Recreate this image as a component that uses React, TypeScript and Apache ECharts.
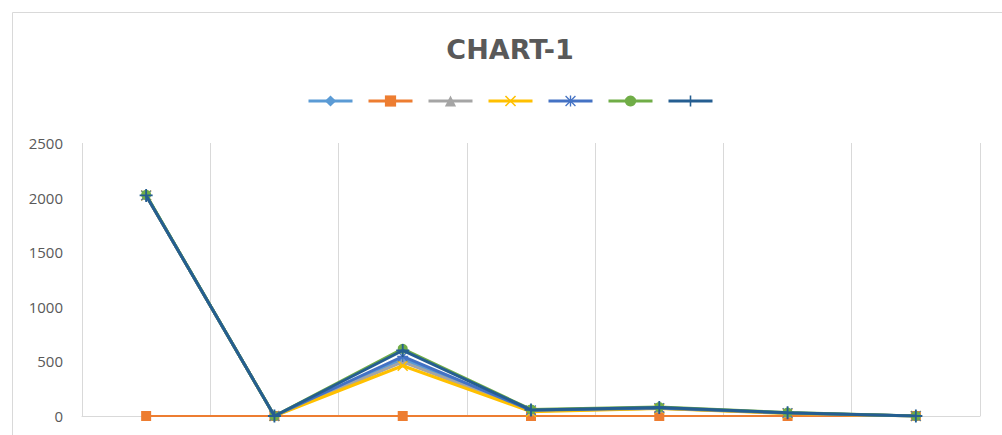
import React, { useEffect, useRef } from "react";
import * as echarts from "echarts";

const categories = ["1", "2", "3", "4", "5", "6", "7"];
const yTicks = { min: 0, max: 2500, interval: 500 };

const s1 = [2020, 0, 520, 50, 72, 28, 0];
const s2 = [0, 0, 0, 0, 0, 0, 0];
const s3 = [2020, 0, 495, 45, 70, 26, 0];
const s4 = [2020, 0, 460, 40, 68, 24, 0];
const s5 = [2020, 0, 545, 52, 74, 28, 0];
const s6 = [2025, 0, 615, 60, 82, 32, 0];
const s7 = [2020, 0, 600, 56, 78, 30, 0];

const seriesNames = ["S1", "S2", "S3", "S4", "S5", "S6", "S7"];
const seriesData = [s1, s2, s3, s4, s5, s6, s7];
const colors = ["#5B9BD5", "#ED7D31", "#A5A5A5", "#FFC000", "#4472C4", "#70AD47", "#255E91"];

const X_PATH = "path://M0,1L1,0L5,4L9,0L10,1L6,5L10,9L9,10L5,6L1,10L0,9L4,5Z";
const PLUS_PATH = "path://M4.3,0H5.7V4.3H10V5.7H5.7V10H4.3V5.7H0V4.3H4.3Z";
const AST_PATH =
  "path://M4.4,0H5.6V4.4H10V5.6H5.6V10H4.4V5.6H0V4.4H4.4Z M1,0.2L5,4.2L9,0.2L9.8,1L5.8,5L9.8,9L9,9.8L5,5.8L1,9.8L0.2,9L4.2,5L0.2,1Z";

const symbols = ["diamond", "rect", "triangle", X_PATH, AST_PATH, "circle", PLUS_PATH];
const symbolSizes = [9, 10, 9, 11, 11, 10, 13];

export default function App() {
  const ref = useRef<HTMLDivElement>(null);
  useEffect(() => {
    if (!ref.current) return;
    const chart = echarts.init(ref.current, undefined, { renderer: "svg" });
    chart.setOption({
      animation: false,
      backgroundColor: "#ffffff",
      title: {
        text: "CHART-1",
        left: 505,
        textAlign: "center",
        top: 31,
        textStyle: {
          fontFamily: "DejaVu Sans",
          fontWeight: "bold",
          fontSize: 27,
          color: "#595959",
        },
      },
      legend: {
        left: 302,
        top: 89,
        itemWidth: 44,
        itemHeight: 14,
        itemGap: 13,
        formatter: () => "",
        lineStyle: { width: 3 },
        data: seriesNames,
      },
      graphic: [
        {
          type: "rect",
          shape: { x: 12.5, y: 12.5, width: 1100, height: 600 },
          style: { fill: "none", stroke: "#d9d9d9", lineWidth: 1 },
          silent: true,
        },
      ],
      grid: { left: 82, right: 22, top: 143, bottom: 19 },
      xAxis: {
        type: "category",
        data: categories,
        boundaryGap: true,
        axisLine: { show: true, lineStyle: { color: "#d9d9d9", width: 1 } },
        axisTick: { show: false },
        axisLabel: { show: false },
        splitLine: { show: true, lineStyle: { color: "#d9d9d9", width: 1 } },
      },
      yAxis: {
        type: "value",
        min: yTicks.min,
        max: yTicks.max,
        interval: yTicks.interval,
        axisLine: { show: false },
        axisTick: { show: false },
        splitLine: { show: false },
        axisLabel: {
          margin: 19,
          fontFamily: "Open Sans",
          fontSize: 15,
          color: "#595959",
          formatter: (v: number) => String(v),
        },
      },
      series: seriesData.map((d, i) => ({
        name: seriesNames[i],
        type: "line",
        data: d,
        symbol: symbols[i],
        symbolSize: symbolSizes[i],
        showAllSymbol: true,
        lineStyle: { color: colors[i], width: i === 1 ? 2 : 3 },
        itemStyle: { color: colors[i] },
        z: 2 + i,
      })),
    });
    return () => chart.dispose();
  }, []);
  return (
    <div
      ref={ref}
      style={{ position: "fixed", left: 0, top: 0, width: 1002, height: 435 }}
    />
  );
}
